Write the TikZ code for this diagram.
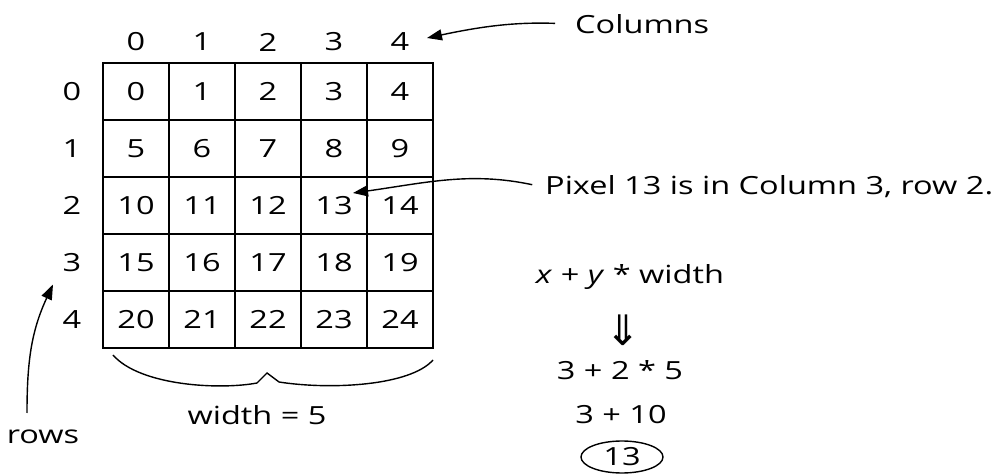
\documentclass[tikz,border=0pt]{standalone}
\usepackage{amsmath}
\usepackage{amssymb}
\usepackage{fontspec}
\setmainfont{Open Sans}[FakeStretch=1.3]
\newfontfamily\symfont{DejaVu Sans}
\usepackage{tikz}
\usetikzlibrary{arrows.meta, positioning, calc, shapes.geometric}

\begin{document}
\begin{tikzpicture}[x=1pt, y=1pt,
  txt/.style={font=\fontsize{25}{29}\selectfont, inner sep=2pt},
  cell/.style={txt, draw, line width=1.6pt, minimum width=66pt, minimum height=57pt, inner sep=0pt},
  arr/.style={-{Triangle[length=15pt, width=11pt]}, line width=1.4pt}]
\useasboundingbox (0,0) rectangle (1007,474);
% grid of pixels
\node[cell] (c0) at (136,382.5) {0};
\node[cell] (c1) at (202,382.5) {1};
\node[cell] (c2) at (268,382.5) {2};
\node[cell] (c3) at (334,382.5) {3};
\node[cell] (c4) at (400,382.5) {4};
\node[cell] (c5) at (136,325.5) {5};
\node[cell] (c6) at (202,325.5) {6};
\node[cell] (c7) at (268,325.5) {7};
\node[cell] (c8) at (334,325.5) {8};
\node[cell] (c9) at (400,325.5) {9};
\node[cell] (c10) at (136,268.5) {10};
\node[cell] (c11) at (202,268.5) {11};
\node[cell] (c12) at (268,268.5) {12};
\node[cell] (c13) at (334,268.5) {13};
\node[cell] (c14) at (400,268.5) {14};
\node[cell] (c15) at (136,211.5) {15};
\node[cell] (c16) at (202,211.5) {16};
\node[cell] (c17) at (268,211.5) {17};
\node[cell] (c18) at (334,211.5) {18};
\node[cell] (c19) at (400,211.5) {19};
\node[cell] (c20) at (136,154.5) {20};
\node[cell] (c21) at (202,154.5) {21};
\node[cell] (c22) at (268,154.5) {22};
\node[cell] (c23) at (334,154.5) {23};
\node[cell] (c24) at (400,154.5) {24};
% column and row numbers
\node[txt] (col0) at (136,432) {0};
\node[txt] (col1) at (202,432) {1};
\node[txt] (col2) at (268,432) {2};
\node[txt] (col3) at (334,432) {3};
\node[txt] (col4) at (400,432) {4};
\node[txt] (row0) at (72,382.5) {0};
\node[txt] (row1) at (72,325.5) {1};
\node[txt] (row2) at (72,268.5) {2};
\node[txt] (row3) at (72,211.5) {3};
\node[txt] (row4) at (72,154.5) {4};
% labels
\node[txt, anchor=west] (cols) at (573,450) {Columns};
\node[txt, anchor=west] (pix) at (543,287) {Pixel 13 is in Column 3, row 2.};
\node[txt] (rows) at (43,37) {rows};
\node[txt] (wid) at (257,59) {width = 5};
% formula
\node[txt] (form) at (630,197) {\textit{x} + \textit{y} * width};
\node[font=\fontsize{42}{44}\selectfont\symfont, inner sep=0pt] (darr) at (623,144) {⇓};
\node[txt] (subst) at (620,104) {3 + 2 * 5};
\node[txt] (sum) at (621,59) {3 + 10};
\node[txt, draw, ellipse, line width=1.4pt, minimum width=82pt, minimum height=32pt, inner sep=0pt] (res) at (622,17) {13};
% arrows
\coordinate[above right=4pt and 27pt of col4.center] (coltip);
\coordinate[above right=12.5pt and 19pt of c13.center] (pixtip);
\coordinate[below left=22pt and 19pt of row3.center] (rowtip);
\coordinate[above left=24pt and 16pt of rows.center] (rowstart);
\draw[arr, shorten <=18pt] (cols.west) to[out=178, in=12] (coltip);
\draw[arr, shorten <=11pt] (pix.west) to[out=168, in=8] (pixtip);
\draw[arr] (rowstart) to[out=90, in=245] (rowtip);
% brace under the grid
\draw[line width=1.4pt] (113,119) .. controls (140,88) and (220,84) .. (257,91) -- (267,101) -- (279,92) .. controls (330,84) and (410,88) .. (433,114);
\end{tikzpicture}
\end{document}
